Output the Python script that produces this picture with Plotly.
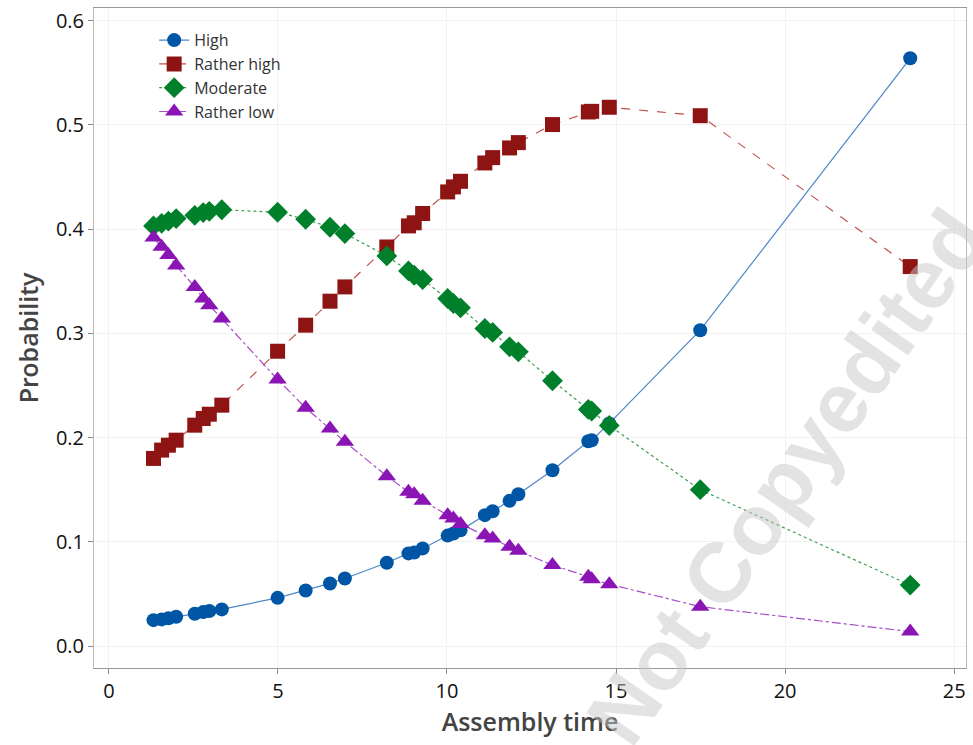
import plotly.graph_objects as go

assembly_time = [1.32, 1.56, 1.76, 1.99, 2.54, 2.79, 2.97, 3.34, 4.99, 5.82, 6.54, 6.98,
                 8.22, 8.86, 9.03, 9.28, 10.02, 10.19, 10.40, 11.12, 11.35, 11.85, 12.11,
                 13.12, 14.18, 14.28, 14.80, 17.49, 23.70]

high = [0.0249, 0.0256, 0.0266, 0.0281, 0.0310, 0.0326, 0.0336, 0.0352, 0.0463, 0.0534,
        0.0601, 0.0649, 0.0799, 0.0889, 0.0898, 0.0937, 0.1060, 0.1080, 0.1110, 0.1256,
        0.1294, 0.1393, 0.1457, 0.1687, 0.1965, 0.1975, 0.2136, 0.3030, 0.5638]

rather_high = [0.1800, 0.1880, 0.1927, 0.1975, 0.2119, 0.2183, 0.2224, 0.2311, 0.2828,
               0.3078, 0.3308, 0.3445, 0.3828, 0.4030, 0.4060, 0.4149, 0.4356, 0.4404,
               0.4458, 0.4634, 0.4685, 0.4778, 0.4829, 0.5002, 0.5123, 0.5129, 0.5168,
               0.5087, 0.3640]

moderate = [0.4030, 0.4055, 0.4075, 0.4100, 0.4132, 0.4158, 0.4170, 0.4185, 0.4161,
            0.4094, 0.4017, 0.3957, 0.3742, 0.3598, 0.3557, 0.3516, 0.3334, 0.3286,
            0.3244, 0.3046, 0.3008, 0.2870, 0.2822, 0.2545, 0.2270, 0.2255, 0.2116,
            0.1500, 0.0585]

rather_low = [0.3920, 0.3830, 0.3750, 0.3650, 0.3445, 0.3334, 0.3270, 0.3142, 0.2557,
              0.2285, 0.2087, 0.1960, 0.1630, 0.1480, 0.1457, 0.1393, 0.1256, 0.1224,
              0.1170, 0.1064, 0.1033, 0.0952, 0.0914, 0.0777, 0.0665, 0.0640, 0.0594,
              0.0378, 0.0139]

series = [
    ("High", high, "#0055a5", "#4f86c6", "solid", "circle", 14),
    ("Rather high", rather_high, "#8e1414", "#c0504d", "dash", "square", 15),
    ("Moderate", moderate, "#00802b", "#3a9d4f", "dot", "diamond", 16),
    ("Rather low", rather_low, "#8b14b5", "#a64dc9", "dashdot", "triangle-up", 16),
]

fig = go.Figure()

fig.add_annotation(
    text="<b>Not Copyedited</b>", xref="paper", yref="paper",
    x=0.795, y=0.29, xanchor="center", yanchor="middle", showarrow=False, textangle=-55,
    font=dict(size=85, color="rgba(200,200,200,0.5)", family="Liberation Sans, Arial, sans-serif"),
)

for name, vals, mcol, lcol, dash, sym, size in series:
    fig.add_trace(go.Scatter(
        x=assembly_time, y=vals, name=name, mode="lines+markers",
        line=dict(color=lcol, width=1.2, dash=dash),
        marker=dict(symbol=sym, size=size, color=mcol, line=dict(width=0)),
    ))

axis_font = dict(family="Open Sans, Noto Sans, sans-serif", size=20, color="#111111")
title_font = dict(size=25, color="#444444", family="Open Sans Semibold, Open Sans, sans-serif")
fig.update_layout(
    width=973, height=745,
    margin=dict(l=94, r=7, t=8, b=77),
    plot_bgcolor="white", paper_bgcolor="white",
    font=dict(family="Open Sans, Noto Sans, sans-serif"),
    showlegend=True,
    legend=dict(x=0.069, y=0.977, xanchor="left", yanchor="top",
                font=dict(size=16, color="#333333"), bgcolor="rgba(0,0,0,0)",
                tracegroupgap=0),
    xaxis=dict(range=[-0.44, 25.35], tickvals=[0, 5, 10, 15, 20, 25],
               ticks="outside", ticklen=5, tickcolor="#888888",
               showline=True, linecolor="#999999", linewidth=1, mirror=True,
               showgrid=True, gridcolor="#f2f2f2", zeroline=False,
               tickfont=axis_font, automargin=False,
               title=dict(text="Assembly time", font=title_font, standoff=8)),
    yaxis=dict(range=[-0.021, 0.612], tickvals=[0, 0.1, 0.2, 0.3, 0.4, 0.5, 0.6],
               tickformat=".1f",
               ticks="outside", ticklen=5, tickcolor="#888888",
               showline=True, linecolor="#bbbbbb", linewidth=1, mirror=True,
               showgrid=True, gridcolor="#f2f2f2", zeroline=False,
               tickfont=axis_font, automargin=False,
               title=dict(text="Probability", font=title_font, standoff=10)),
)

fig.write_html("out.html", config={"displayModeBar": False},
               post_script="document.body.style.margin='0';")
